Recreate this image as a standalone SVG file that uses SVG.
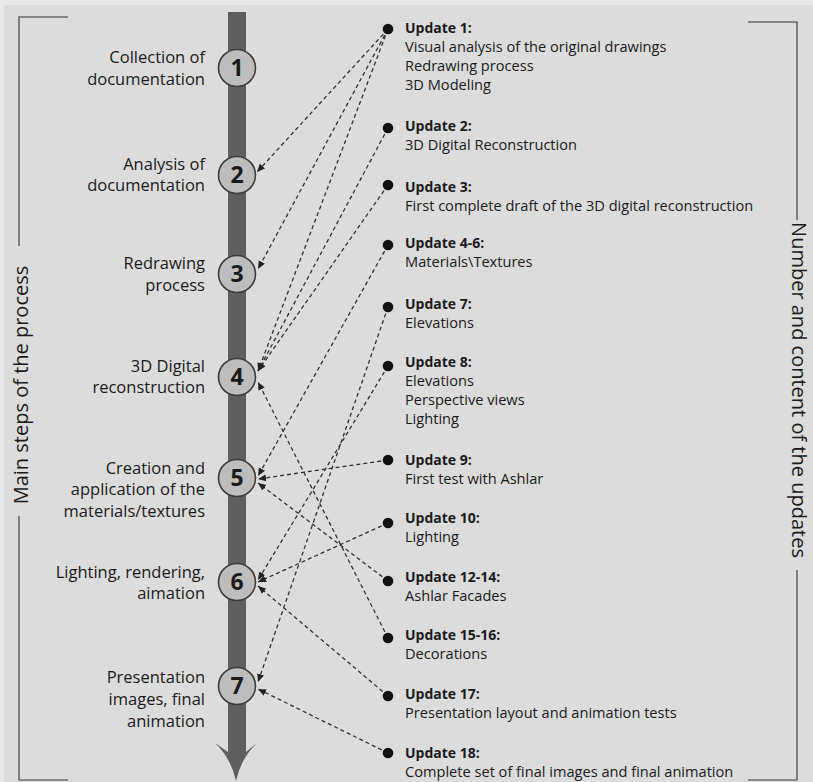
<svg xmlns="http://www.w3.org/2000/svg" width="813" height="782" viewBox="0 0 813 782">
<style>
.bg{fill:#dcdcdc}
.br{fill:none;stroke:#6a6a6a;stroke-width:1.6}
.lbl{font-family:"Open Sans","Noto Sans",sans-serif;font-size:16.5px;fill:#1a1a1a;text-anchor:end}
.num{font-family:"Open Sans","Liberation Sans",sans-serif;font-size:23px;font-weight:bold;fill:#1a1a1a;text-anchor:middle}
.step{fill:#bdbdbd;stroke:#3c3c3c;stroke-width:1.6}
.hd{font-family:"Open Sans","Noto Sans",sans-serif;font-size:14px;font-weight:bold;fill:#1a1a1a}
.tx{font-family:"Open Sans","Noto Sans",sans-serif;font-size:14.6px;fill:#1a1a1a}
.side{font-family:"Open Sans","Noto Sans",sans-serif;font-size:20px;fill:#1a1a1a;text-anchor:middle}
.dot{fill:#111}
.con{fill:none;stroke:#333;stroke-width:1.3;stroke-dasharray:4 3;marker-end:url(#ah)}
</style>
<defs>
<marker id="ah" markerUnits="userSpaceOnUse" markerWidth="9" markerHeight="8" refX="8" refY="4" orient="auto">
<path d="M0,0.5 L8,4 L0,7.5 Z" fill="#222"/>
</marker>
</defs>
<rect x="0" y="0" width="813" height="782" fill="#e8e8e8"/>
<rect class="bg" x="4" y="5" width="809" height="777"/>

<g id="brackets">
<path class="br" d="M68,17 H19 V246"/>
<path class="br" d="M19,516 V780 H68"/>
<path class="br" d="M748,22 H797 V220"/>
<path class="br" d="M797,570 V780 H748"/>
<text class="side" transform="translate(28,385) rotate(-90)">Main steps of the process</text>
<text class="side" transform="translate(792,390) rotate(90)">Number and content of the updates</text>
</g>

<g id="timeline">
<rect x="228" y="12" width="18" height="742" fill="#5f5f5f"/>
<path d="M228,752 L215,743 Q231,758 236,781 Q241,758 257,743 L246,752 Z" fill="#5f5f5f"/>
</g>

<g id="connectors">
<line class="con" x1="388" y1="29" x2="257" y2="172"/>
<line class="con" x1="388" y1="29" x2="258" y2="269"/>
<line class="con" x1="388" y1="29" x2="258" y2="371"/>
<line class="con" x1="388" y1="128" x2="258" y2="371"/>
<line class="con" x1="388" y1="185" x2="258" y2="371"/>
<line class="con" x1="388" y1="245" x2="258" y2="476"/>
<line class="con" x1="388" y1="307" x2="258" y2="682"/>
<line class="con" x1="388" y1="366" x2="258" y2="580"/>
<line class="con" x1="388" y1="460" x2="258" y2="479"/>
<line class="con" x1="388" y1="523" x2="258" y2="582"/>
<line class="con" x1="388" y1="581" x2="258" y2="483"/>
<line class="con" x1="388" y1="638" x2="258" y2="382"/>
<line class="con" x1="388" y1="696" x2="258" y2="586"/>
<line class="con" x1="388" y1="753" x2="258" y2="689"/>
</g>

<g id="step1"><circle class="step" cx="237" cy="68" r="18.5"/><text class="num" x="237" y="76">1</text>
<text class="lbl" x="205" y="63">Collection of</text><text class="lbl" x="205" y="85">documentation</text></g>
<g id="step2"><circle class="step" cx="237" cy="175" r="18.5"/><text class="num" x="237" y="183">2</text>
<text class="lbl" x="205" y="170">Analysis of</text><text class="lbl" x="205" y="191">documentation</text></g>
<g id="step3"><circle class="step" cx="237" cy="274" r="18.5"/><text class="num" x="237" y="282">3</text>
<text class="lbl" x="205" y="269">Redrawing</text><text class="lbl" x="205" y="291">process</text></g>
<g id="step4"><circle class="step" cx="237" cy="377" r="18.5"/><text class="num" x="237" y="385">4</text>
<text class="lbl" x="205" y="372">3D Digital</text><text class="lbl" x="205" y="393">reconstruction</text></g>
<g id="step5"><circle class="step" cx="237" cy="478" r="18.5"/><text class="num" x="237" y="486">5</text>
<text class="lbl" x="205" y="474">Creation and</text><text class="lbl" x="205" y="495">application of the</text><text class="lbl" x="205" y="517">materials/textures</text></g>
<g id="step6"><circle class="step" cx="237" cy="582" r="18.5"/><text class="num" x="237" y="590">6</text>
<text class="lbl" x="205" y="578">Lighting, rendering,</text><text class="lbl" x="205" y="599">aimation</text></g>
<g id="step7"><circle class="step" cx="237" cy="686" r="18.5"/><text class="num" x="237" y="694">7</text>
<text class="lbl" x="205" y="683">Presentation</text><text class="lbl" x="205" y="705">images, final</text><text class="lbl" x="205" y="727">animation</text></g>

<g id="u1"><circle class="dot" cx="388" cy="29" r="5.3"/><text class="hd" x="405" y="33">Update 1:</text>
<text class="tx" x="405" y="52">Visual analysis of the original drawings</text><text class="tx" x="405" y="71">Redrawing process</text><text class="tx" x="405" y="90">3D Modeling</text></g>
<g id="u2"><circle class="dot" cx="388" cy="128" r="5.3"/><text class="hd" x="405" y="131">Update 2:</text>
<text class="tx" x="405" y="150">3D Digital Reconstruction</text></g>
<g id="u3"><circle class="dot" cx="388" cy="185" r="5.3"/><text class="hd" x="405" y="192">Update 3:</text>
<text class="tx" x="405" y="211">First complete draft of the 3D digital reconstruction</text></g>
<g id="u4"><circle class="dot" cx="388" cy="245" r="5.3"/><text class="hd" x="405" y="248">Update 4-6:</text>
<text class="tx" x="405" y="267">Materials\Textures</text></g>
<g id="u7"><circle class="dot" cx="388" cy="307" r="5.3"/><text class="hd" x="405" y="309">Update 7:</text>
<text class="tx" x="405" y="328">Elevations</text></g>
<g id="u8"><circle class="dot" cx="388" cy="366" r="5.3"/><text class="hd" x="405" y="367">Update 8:</text>
<text class="tx" x="405" y="386">Elevations</text><text class="tx" x="405" y="405">Perspective views</text><text class="tx" x="405" y="424">Lighting</text></g>
<g id="u9"><circle class="dot" cx="388" cy="460" r="5.3"/><text class="hd" x="405" y="465">Update 9:</text>
<text class="tx" x="405" y="484">First test with Ashlar</text></g>
<g id="u10"><circle class="dot" cx="388" cy="523" r="5.3"/><text class="hd" x="405" y="523">Update 10:</text>
<text class="tx" x="405" y="542">Lighting</text></g>
<g id="u12"><circle class="dot" cx="388" cy="581" r="5.3"/><text class="hd" x="405" y="582">Update 12-14:</text>
<text class="tx" x="405" y="601">Ashlar Facades</text></g>
<g id="u15"><circle class="dot" cx="388" cy="638" r="5.3"/><text class="hd" x="405" y="640">Update 15-16:</text>
<text class="tx" x="405" y="659">Decorations</text></g>
<g id="u17"><circle class="dot" cx="388" cy="696" r="5.3"/><text class="hd" x="405" y="699">Update 17:</text>
<text class="tx" x="405" y="718">Presentation layout and animation tests</text></g>
<g id="u18"><circle class="dot" cx="388" cy="753" r="5.3"/><text class="hd" x="405" y="758">Update 18:</text>
<text class="tx" x="405" y="777">Complete set of final images and final animation</text></g>
</svg>
